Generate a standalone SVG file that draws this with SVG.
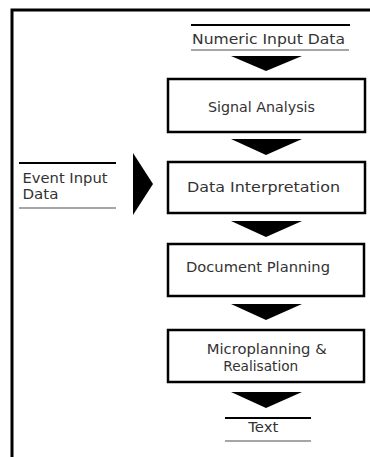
<svg xmlns="http://www.w3.org/2000/svg" width="370" height="457" viewBox="0 0 370 457">
<style>
.box{fill:#fff;stroke:#000;stroke-width:2.5}
.t{font-family:"DejaVu Sans","Liberation Sans",sans-serif;font-size:14px;fill:#333;text-anchor:middle}
.tl{font-family:"DejaVu Sans","Liberation Sans",sans-serif;font-size:14px;fill:#333}
.thick{stroke:#000;stroke-width:2}
.thin{stroke:#888;stroke-width:1.5}
.arr{fill:#000}
</style>
<rect width="370" height="457" fill="#fff"/>
<g id="frame">
<path d="M12 457 V10 H370" fill="none" stroke="#000" stroke-width="3"/>
</g>
<g id="numeric-input">
<line class="thick" x1="191" y1="25" x2="350" y2="25"/>
<text class="t" x="268.5" y="43.5" textLength="153" lengthAdjust="spacingAndGlyphs">Numeric Input Data</text>
<line class="thin" x1="191" y1="50" x2="349" y2="50"/>
</g>
<g id="signal-analysis">
<rect class="box" x="168" y="79" width="197" height="53"/>
<text class="t" x="261.5" y="111.5" textLength="107" lengthAdjust="spacingAndGlyphs">Signal Analysis</text>
</g>
<g id="event-input">
<line class="thick" x1="19" y1="163" x2="116" y2="163"/>
<text class="tl" x="22.5" y="183" textLength="85" lengthAdjust="spacingAndGlyphs">Event Input</text>
<text class="tl" x="22.5" y="199" textLength="36" lengthAdjust="spacingAndGlyphs">Data</text>
<line class="thin" x1="19" y1="208" x2="116" y2="208"/>
</g>
<g id="data-interpretation">
<rect class="box" x="168" y="162" width="197" height="51"/>
<text class="t" x="263.5" y="191.5" textLength="153" lengthAdjust="spacingAndGlyphs">Data Interpretation</text>
</g>
<g id="document-planning">
<rect class="box" x="168" y="244" width="196" height="52"/>
<text class="t" x="258" y="271.5" textLength="144" lengthAdjust="spacingAndGlyphs">Document Planning</text>
</g>
<g id="microplanning">
<rect class="box" x="168" y="330" width="196" height="52"/>
<text class="t" x="266.7" y="354" textLength="120" lengthAdjust="spacingAndGlyphs">Microplanning &amp;</text>
<text class="t" x="260.8" y="370.5" textLength="75" lengthAdjust="spacingAndGlyphs">Realisation</text>
</g>
<g id="text-output">
<line class="thick" x1="225" y1="418" x2="311" y2="418"/>
<text class="t" x="263.3" y="432" textLength="30" lengthAdjust="spacingAndGlyphs">Text</text>
<line class="thin" x1="225" y1="441" x2="311" y2="441"/>
</g>
<g id="connectors">
<polygon class="arr" points="231,56 302,56 266,71"/>
<polygon class="arr" points="231,139 302,139 266,155"/>
<polygon class="arr" points="231,221 302,221 266,237"/>
<polygon class="arr" points="231,304 302,304 266,320"/>
<polygon class="arr" points="231,392 302,392 266,408"/>
<polygon class="arr" points="133,153 153,184 133,215"/>
</g>
</svg>
